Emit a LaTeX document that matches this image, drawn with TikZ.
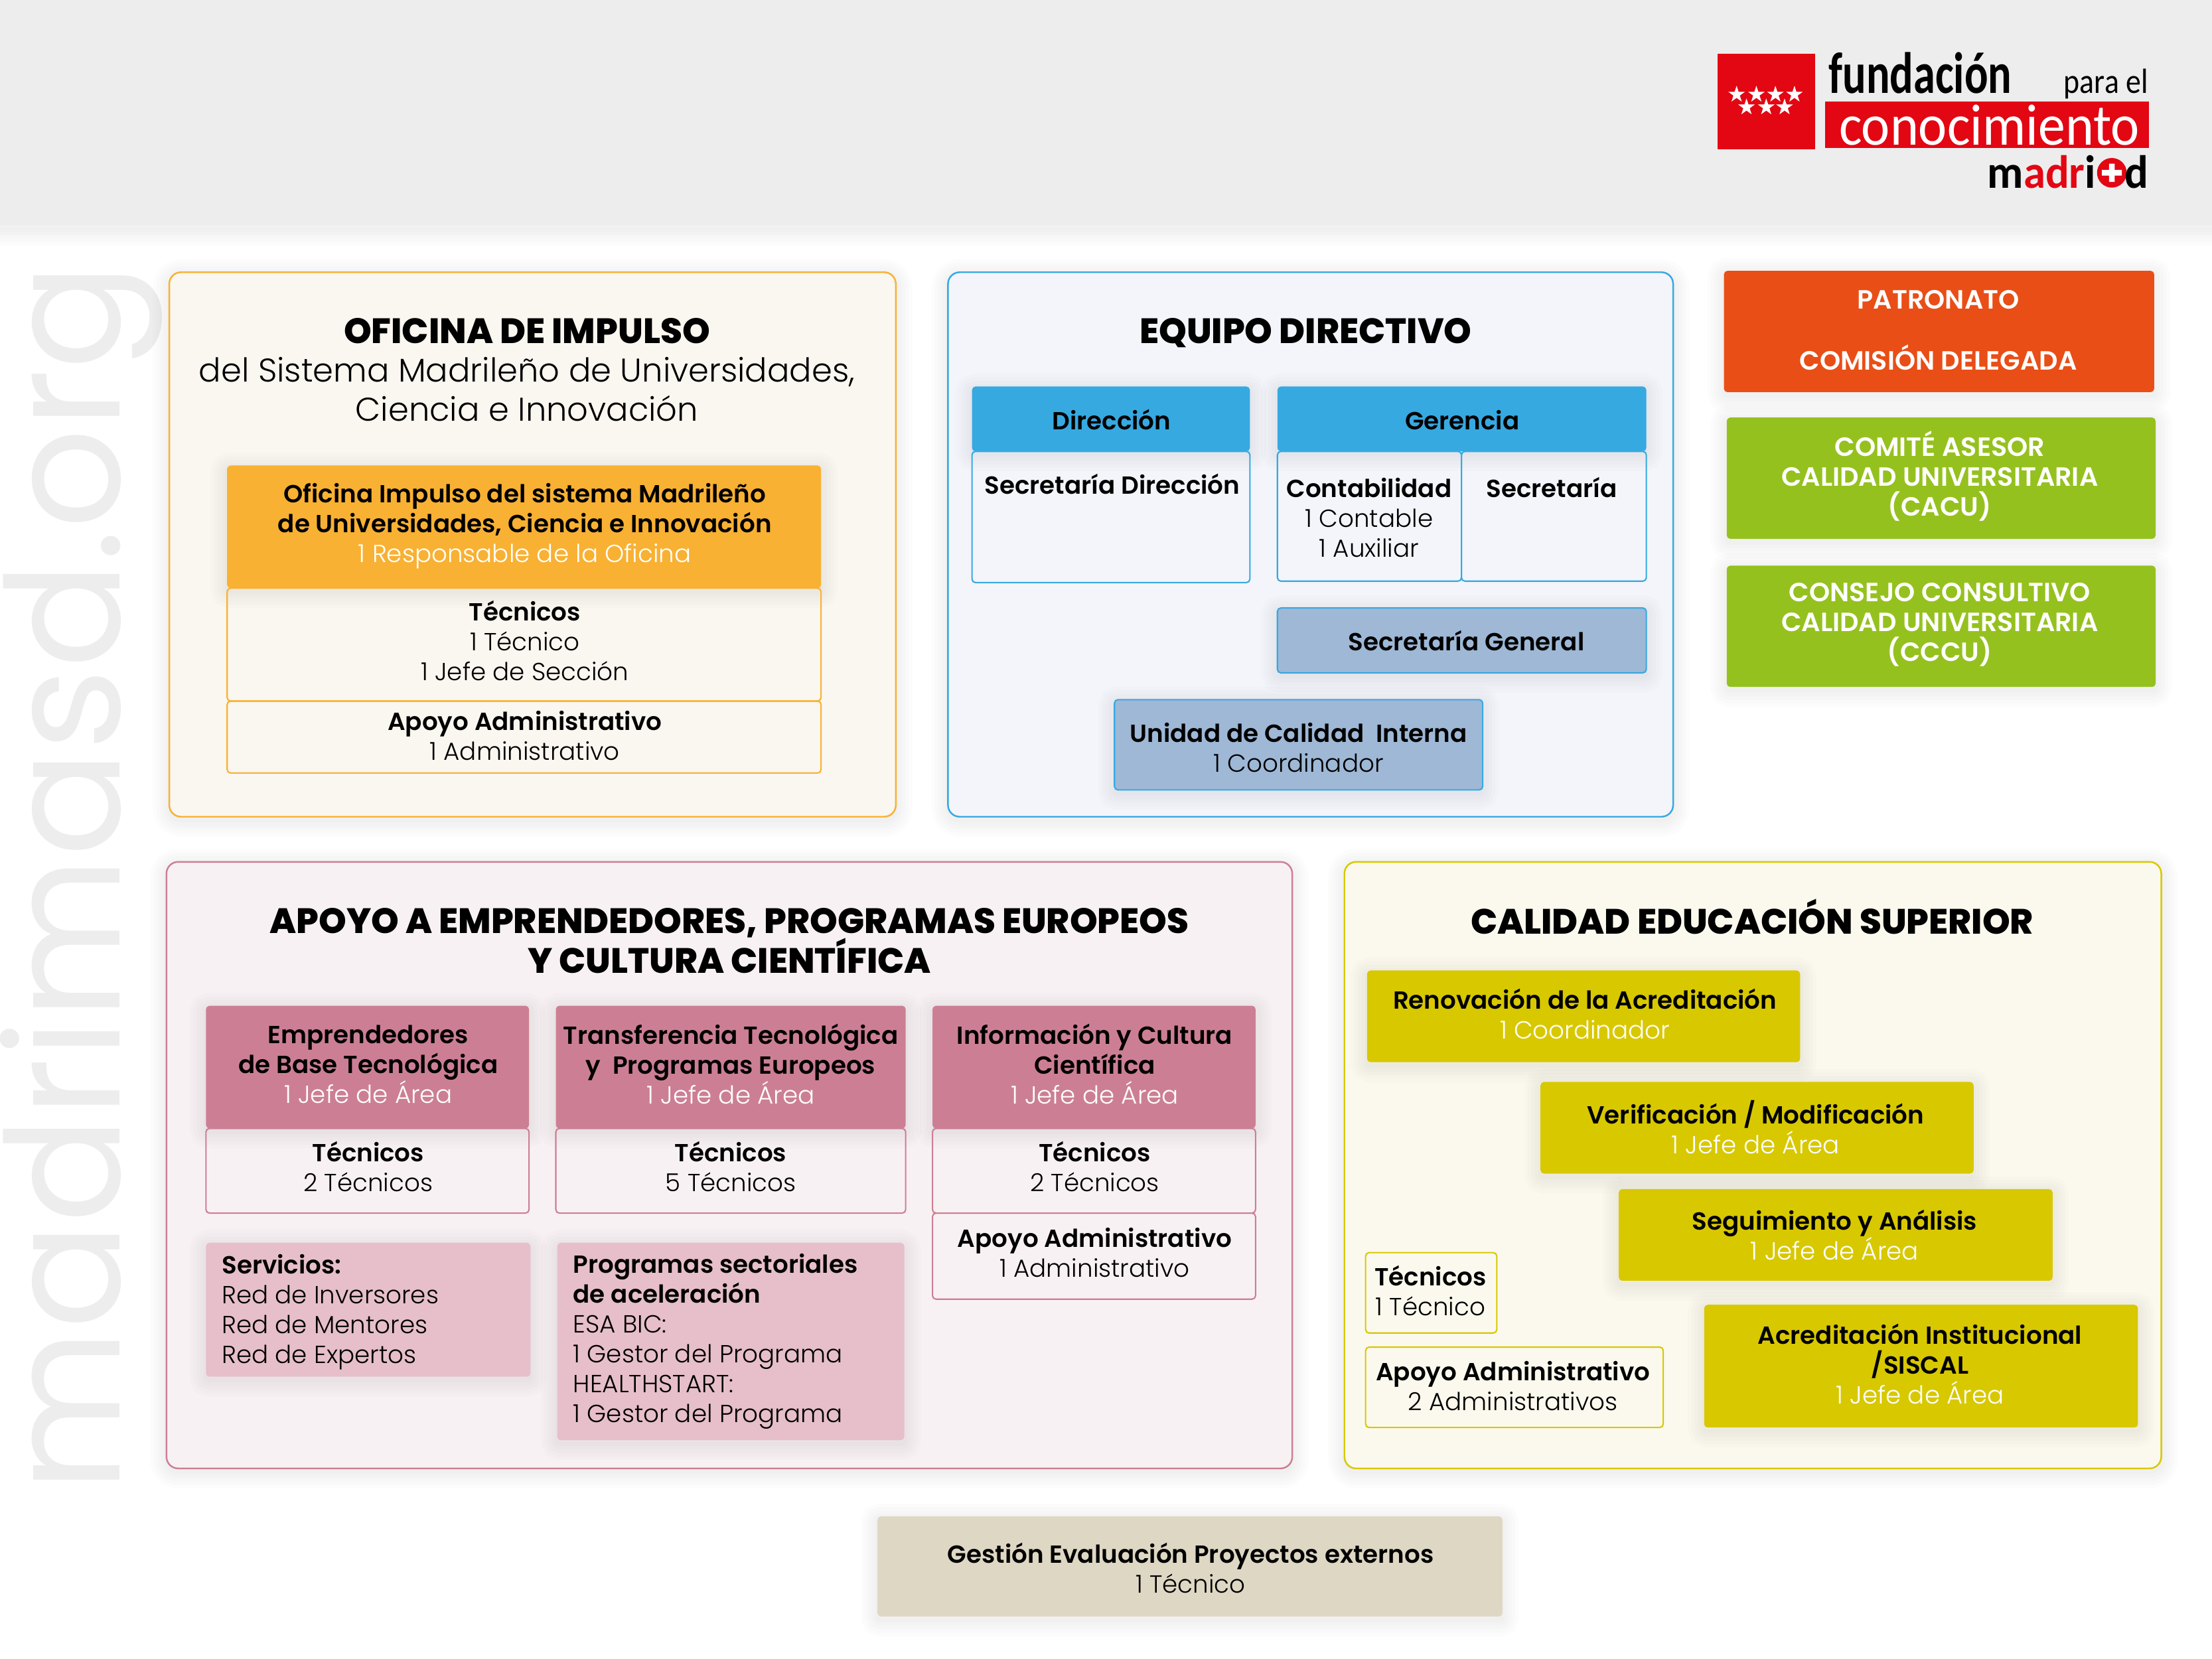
\documentclass[tikz,border=0pt]{standalone}
\usepackage{fontspec}
\setmainfont{Poppins Light}[BoldFont=Poppins SemiBold]
\newfontfamily\titlefont{Poppins ExtraBold}
\newfontfamily\markfont{Poppins}
\newfontfamily\logofont{Carlito}[BoldFont=Carlito Bold]
\usetikzlibrary{shapes.geometric}

\definecolor{impulso}{HTML}{F8B133}
\definecolor{impulsobg}{HTML}{FAF6F0}
\definecolor{equipo}{HTML}{36A9E1}
\definecolor{equipobg}{HTML}{F3F5FA}
\definecolor{acero}{HTML}{9EB8D6}
\definecolor{rosa}{HTML}{CC7F94}
\definecolor{rosabg}{HTML}{F8F1F4}
\definecolor{rosaclaro}{HTML}{E6BFCA}
\definecolor{oliva}{HTML}{D8C800}
\definecolor{olivabg}{HTML}{FBF9EE}
\definecolor{patronato}{HTML}{E94E16}
\definecolor{comite}{HTML}{95C11F}
\definecolor{beige}{HTML}{DED7C4}
\definecolor{rojologo}{HTML}{E30613}
\definecolor{marca}{HTML}{EDEDED}

\tikzset{
  halo/.style={preaction={draw=black,draw opacity=.011,line width=#1,transform canvas={yshift=-1.5pt}}},
  softshadow/.style={halo=14pt,halo=11pt,halo=8pt,halo=5pt,halo=2pt},
  panel/.style={line width=.7pt,rounded corners=5pt,softshadow},
  solidbox/.style={rounded corners=1.5pt,softshadow},
  linebox/.style={line width=.6pt,rounded corners=1.5pt},
  strutted/.style={align=center,inner sep=0pt,execute at begin node=\strut,execute at end node=\strut},
  body/.style={strutted,yshift=-1.8pt,font=\fontsize{10.6}{12.8}\selectfont},
  bodyleft/.style={body,align=left,anchor=west},
  heading/.style={strutted,yshift=-2.4pt,font=\titlefont\fontsize{15.1}{16.9}\selectfont},
  subheading/.style={strutted,yshift=-2.4pt,font=\fontsize{14.1}{16.9}\selectfont},
  invert/.style={strutted,yshift=-1.5pt,text=white,font=\bfseries\fontsize{11.3}{12.8}\selectfont},
  estrella/.style={star,star points=5,star point ratio=2.6,fill=white,inner sep=0pt,minimum size=7.5pt},
  logotext/.style={inner sep=0pt,anchor=base east,font=\logofont\bfseries}
}
\newcommand{\blanco}[1]{\textcolor{white}{#1}}

\begin{document}
\begin{tikzpicture}[x=.021256cm,y=-.021256cm]
  \useasboundingbox (0,0) rectangle (1568,1176);
  % Header band
  \fill[marca,softshadow] (-10,-10) rectangle (1578,160);
  % Side mark
  \node[rotate=90,anchor=base west,inner sep=0pt,text=marca,font=\markfont\fontsize{67.5}{67.5}\selectfont] (side) at (85,1058) {madrimasd.org};

  % Logo
  \fill[rojologo] (1217.5,38) rectangle (1286.5,106);
  \foreach \x in {1231,1245,1258.5,1272} \node[estrella] (st\x) at (\x,67) {};
  \foreach \x in {1238,1252,1265} \node[estrella] (sb\x) at (\x,76) {};
  \node[logotext,anchor=base west,font=\logofont\bfseries\fontsize{25}{25}\selectfont] (logoA) at (1296,66) {\scalebox{.755}[1]{fundación}};
  \node[logotext,font=\logofont\fontsize{15}{15}\selectfont] (logoB) at (1523,66) {\scalebox{.87}[1]{para el}};
  \fill[rojologo] (1293.5,72) rectangle (1523.5,105);
  \node[logotext,text=white,font=\logofont\fontsize{25}{25}\selectfont] (logoC) at (1517,103) {\scalebox{.93}[1]{conocimiento}};
  \node[logotext,font=\logofont\bfseries\fontsize{20}{20}\selectfont] (logoD) at (1486,133.5) {\scalebox{.95}[1]{m\textcolor{rojologo}{adr}i}};
  \fill[rojologo] (1497,122.5) circle (10.5);
  \fill[white] (1490,120.5) rectangle (1504,124.5) (1495,116) rectangle (1499,129);
  \node[logotext,font=\logofont\bfseries\fontsize{20}{20}\selectfont] (logoE) at (1523.5,133.5) {\scalebox{.95}[1]{d}};

  % Oficina de impulso
  \draw[panel,draw=impulso,fill=impulsobg] (120,193) rectangle (635,579);
  \node[heading] (impT) at (373.5,234) {OFICINA DE IMPULSO};
  \node[subheading] (impS) at (373.5,276) {del Sistema Madrileño de Universidades,\\Ciencia e Innovación};
  \fill[impulso,solidbox] (161,330) rectangle (582,417);
  \draw[linebox,draw=impulso] (161,417) rectangle (582,497);
  \draw[linebox,draw=impulso] (161,497) rectangle (582,548);
  \node[body] (impA) at (372,371) {\textbf{Oficina Impulso del sistema Madrileño}\\\textbf{de Universidades, Ciencia e Innovación}\\\blanco{1 Responsable de la Oficina}};
  \node[body] (impB) at (372,454.5) {\textbf{Técnicos}\\1 Técnico\\1 Jefe de Sección};
  \node[body] (impC) at (372,521.5) {\textbf{Apoyo Administrativo}\\1 Administrativo};

  % Equipo directivo
  \draw[panel,draw=equipo,fill=equipobg] (672,193) rectangle (1186,579);
  \node[heading] (eqT) at (925.5,234) {EQUIPO DIRECTIVO};
  \fill[equipo,solidbox] (689,274) rectangle (886,320);
  \fill[equipo,solidbox] (905.5,274) rectangle (1167,320);
  \draw[linebox,draw=equipo] (689,320) rectangle (886,413);
  \draw[linebox,draw=equipo] (905.5,320) rectangle (1036,412);
  \draw[linebox,draw=equipo] (1036,320) rectangle (1167,412);
  \draw[linebox,draw=equipo,fill=acero,softshadow] (905.5,431) rectangle (1167,477);
  \draw[linebox,draw=equipo,fill=acero,softshadow] (790,496) rectangle (1051,560);
  \node[body] (eqA) at (788,297.5) {\textbf{Dirección}};
  \node[body] (eqB) at (1036.5,297.5) {\textbf{Gerencia}};
  \node[body] (eqC) at (788.5,343) {\textbf{Secretaría Dirección}};
  \node[body] (eqD) at (970.5,367) {\textbf{Contabilidad}\\1 Contable\\1 Auxiliar};
  \node[body] (eqE) at (1100,345.5) {\textbf{Secretaría}};
  \node[body] (eqF) at (1039.5,454) {\textbf{Secretaría General}};
  \node[body] (eqG) at (920.5,530) {\textbf{Unidad de Calidad\ \ Interna}\\1 Coordinador};

  % Organos
  \fill[patronato,solidbox] (1222,192) rectangle (1527,278);
  \fill[comite,solidbox] (1224,296) rectangle (1528,382);
  \fill[comite,solidbox] (1224,401) rectangle (1528,487);
  \node[invert] (orgA) at (1374,212.5) {PATRONATO};
  \node[invert] (orgB) at (1374,254) {COMISIÓN DELEGADA};
  \node[invert] (orgC) at (1375,336.5) {COMITÉ ASESOR\\CALIDAD UNIVERSITARIA\\(CACU)};
  \node[invert] (orgD) at (1375,441.5) {CONSEJO CONSULTIVO\\CALIDAD UNIVERSITARIA\\(CCCU)};

  % Apoyo a emprendedores
  \draw[panel,draw=rosa,fill=rosabg] (118,611) rectangle (916,1041);
  \node[heading] (apT) at (517,667) {APOYO A EMPRENDEDORES, PROGRAMAS EUROPEOS\\Y CULTURA CIENTÍFICA};
  \foreach \a/\b in {146/375,394/642,661/890} {
    \fill[rosa,solidbox] (\a,713) rectangle (\b,800);
    \draw[linebox,draw=rosa] (\a,800) rectangle (\b,860);
  }
  \draw[linebox,draw=rosa] (661,860) rectangle (890,921);
  \fill[rosaclaro,solidbox] (146,881) rectangle (376,976);
  \fill[rosaclaro,solidbox] (395,881) rectangle (641,1021);
  \node[body] (apA) at (261,754.5) {\textbf{Emprendedores}\\\textbf{de Base Tecnológica}\\\blanco{1 Jefe de Área}};
  \node[body] (apB) at (518,754.5) {\textbf{Transferencia Tecnológica}\\\textbf{y\ \ Programas Europeos}\\\blanco{1 Jefe de Área}};
  \node[body] (apC) at (776,754.5) {\textbf{Información y Cultura}\\\textbf{Científica}\\\blanco{1 Jefe de Área}};
  \node[body] (apD) at (261,827) {\textbf{Técnicos}\\2 Técnicos};
  \node[body] (apE) at (518,827) {\textbf{Técnicos}\\5 Técnicos};
  \node[body] (apF) at (776,827) {\textbf{Técnicos}\\2 Técnicos};
  \node[body] (apG) at (776,888) {\textbf{Apoyo Administrativo}\\1 Administrativo};
  \node[bodyleft] (apH) at (157,928) {\textbf{Servicios:}\\Red de Inversores\\Red de Mentores\\Red de Expertos};
  \node[bodyleft] (apI) at (406,949) {\textbf{Programas sectoriales}\\\textbf{de aceleración}\\ESA BIC:\\1 Gestor del Programa\\HEALTHSTART:\\1 Gestor del Programa};

  % Calidad educacion superior
  \draw[panel,draw=oliva,fill=olivabg] (953,611) rectangle (1532,1041);
  \node[heading] (caT) at (1242,650) {CALIDAD EDUCACIÓN SUPERIOR};
  \fill[oliva,solidbox] (969,688) rectangle (1276,753);
  \fill[oliva,solidbox] (1092,767) rectangle (1399,832);
  \fill[oliva,solidbox] (1147.5,843) rectangle (1455,908);
  \fill[oliva,solidbox] (1208,925) rectangle (1515.5,1012);
  \draw[linebox,draw=oliva] (968,888) rectangle (1061,945);
  \draw[linebox,draw=oliva] (968,955) rectangle (1179,1012);
  \node[body] (caA) at (1123.5,719) {\textbf{Renovación de la Acreditación}\\\blanco{1 Coordinador}};
  \node[body] (caB) at (1244.5,799) {\textbf{Verificación / Modificación}\\\blanco{1 Jefe de Área}};
  \node[body] (caC) at (1300.5,875.5) {\textbf{Seguimiento y Análisis}\\\blanco{1 Jefe de Área}};
  \node[body] (caD) at (1361,967) {\textbf{Acreditación Institucional}\\\textbf{/SISCAL}\\\blanco{1 Jefe de Área}};
  \node[body] (caE) at (1014,915) {\textbf{Técnicos}\\1 Técnico};
  \node[body] (caF) at (1072.5,982.5) {\textbf{Apoyo Administrativo}\\2 Administrativos};

  % Gestion evaluacion
  \fill[beige,solidbox] (622,1075) rectangle (1065,1146);
  \node[body] (geA) at (844,1111.5) {\textbf{Gestión Evaluación Proyectos externos}\\1 Técnico};
\end{tikzpicture}
\end{document}
